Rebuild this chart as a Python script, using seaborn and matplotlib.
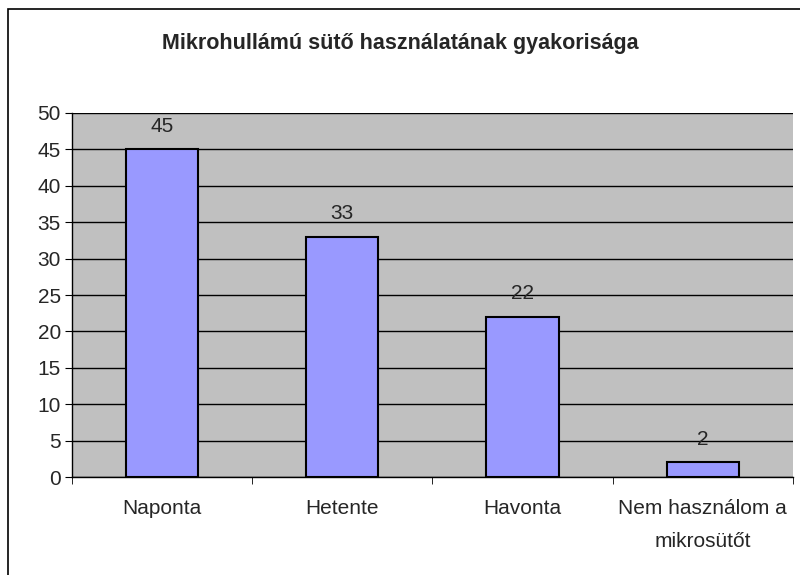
import matplotlib
matplotlib.use('Agg')
import matplotlib.pyplot as plt
import seaborn as sns
import pandas as pd
from matplotlib.patches import Rectangle

categories = ["Naponta", "Hetente", "Havonta", "Nem használom a\nmikrosütőt"]
values = [45, 33, 22, 2]
title = "Mikrohullámú sütő használatának gyakorisága"

sns.set_style("white")
plt.rcParams['font.family'] = ['Liberation Sans', 'DejaVu Sans']

df = pd.DataFrame({"cat": categories, "val": values})

fig = plt.figure(figsize=(8, 5.75), dpi=100)
ax = fig.add_axes([0.09, 0.1704, 0.901, 0.6331])
ax.set_facecolor('#C0C0C0')

# outer chart border (left/top visible, right/bottom cropped)
fig.patches.append(Rectangle((8 / 800, -0.1), 1.2, 1 - 9 / 575 + 0.1,
                             transform=fig.transFigure, fill=False,
                             edgecolor='black', linewidth=1.2))

sns.barplot(data=df, x="cat", y="val", ax=ax, color='#9999FF', width=0.4,
            edgecolor='black', linewidth=1.5, saturation=1)

ax.set_ylim(0, 50)
ax.set_xlim(-0.5, 3.5)
ax.set_yticks(range(0, 51, 5))
ax.yaxis.grid(True, color='black', linewidth=1)
ax.set_axisbelow(True)
ax.set_xlabel("")
ax.set_ylabel("")

ax.tick_params(axis='y', labelsize=15, length=5, direction='out', color='black', left=True, pad=3)
ax.tick_params(axis='x', which='major', labelsize=15, length=0, pad=16)
for lbl in ax.get_xticklabels():
    lbl.set_linespacing(1.9)
ax.set_xticks([-0.5, 0.5, 1.5, 2.5, 3.5], minor=True)
ax.tick_params(axis='x', which='minor', length=5, direction='out', color='black', bottom=True)

for s in ['top', 'right']:
    ax.spines[s].set_visible(False)
for s in ['left', 'bottom']:
    ax.spines[s].set_color('black')
    ax.spines[s].set_linewidth(1)

for i, v in enumerate(values):
    ax.annotate(str(v), (i, v), xytext=(0, 10), textcoords='offset points',
                ha='center', va='bottom', fontsize=15)

fig.text(0.5, 1 - 43 / 575, title, ha='center', va='center',
         fontsize=15.5, fontweight='bold')

fig.savefig('out.png', dpi=100)
